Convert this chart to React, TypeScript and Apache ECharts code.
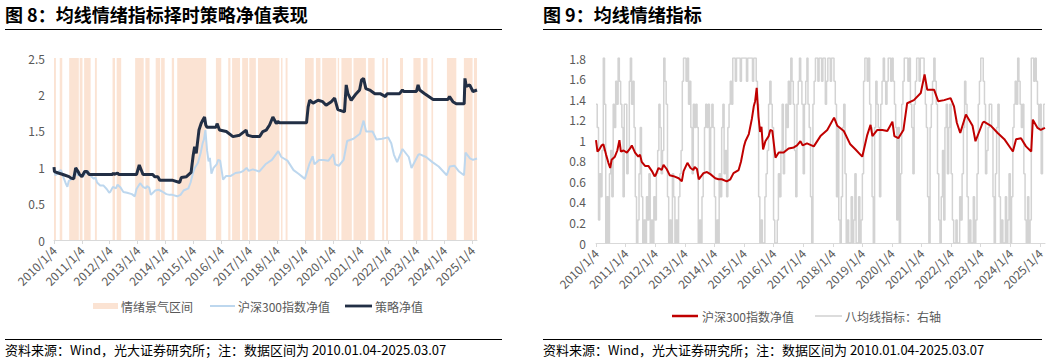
import React, { useEffect, useRef } from "react";
import * as echarts from "echarts";

const FONT = '"Noto Sans CJK SC", "Microsoft YaHei", sans-serif';

// x-axis tick dates and labels (both charts)
const tickDates = [
  "2010-01-04", "2011-01-04", "2012-01-04", "2013-01-04", "2014-01-04", "2015-01-04",
  "2016-01-04", "2017-01-04", "2018-01-04", "2019-01-04", "2020-01-04", "2021-01-04",
  "2022-01-04", "2023-01-04", "2024-01-04", "2025-01-04",
];
const tickLabels = [
  "2010/1/4", "2011/1/4", "2012/1/4", "2013/1/4", "2014/1/4", "2015/1/4",
  "2016/1/4", "2017/1/4", "2018/1/4", "2019/1/4", "2020/1/4", "2021/1/4",
  "2022/1/4", "2023/1/4", "2024/1/4", "2025/1/4",
];
const startDate = "2010-01-04";
const endDate = "2025-03-07";

// CSI 300 net value
const csi300: [string, number][] = [
  ["2010-01-04", 1.0], ["2010-01-22", 0.89], ["2010-02-14", 0.91], ["2010-03-15", 0.95],
  ["2010-04-05", 0.96], ["2010-05-08", 0.86], ["2010-06-06", 0.78], ["2010-06-28", 0.73],
  ["2010-07-16", 0.81], ["2010-08-25", 0.84], ["2010-09-24", 0.9], ["2010-10-20", 1.0],
  ["2010-11-07", 0.89], ["2010-12-10", 0.9], ["2011-01-20", 0.88], ["2011-03-01", 0.92],
  ["2011-03-22", 0.95], ["2011-05-01", 0.88], ["2011-06-10", 0.84], ["2011-07-01", 0.86],
  ["2011-07-22", 0.79], ["2011-09-01", 0.75], ["2011-10-12", 0.75], ["2011-11-25", 0.7],
  ["2011-12-28", 0.65], ["2012-01-10", 0.66], ["2012-02-15", 0.73], ["2012-03-25", 0.71],
  ["2012-04-16", 0.76], ["2012-05-25", 0.72], ["2012-07-01", 0.66], ["2012-08-18", 0.65],
  ["2012-10-20", 0.63], ["2012-11-28", 0.6], ["2012-12-20", 0.7], ["2013-02-05", 0.78],
  ["2013-03-15", 0.73], ["2013-04-20", 0.71], ["2013-05-05", 0.74], ["2013-06-03", 0.72],
  ["2013-06-25", 0.62], ["2013-08-22", 0.68], ["2013-10-05", 0.69], ["2013-11-15", 0.67],
  ["2014-01-15", 0.63], ["2014-02-25", 0.62], ["2014-04-05", 0.62], ["2014-06-05", 0.6],
  ["2014-07-20", 0.62], ["2014-08-28", 0.68], ["2014-10-30", 0.71], ["2014-11-28", 0.79],
  ["2015-01-04", 0.94], ["2015-01-22", 0.99], ["2015-03-05", 1.06], ["2015-04-12", 1.21],
  ["2015-05-05", 1.33], ["2015-05-22", 1.38], ["2015-06-10", 1.51], ["2015-07-02", 1.23],
  ["2015-07-22", 1.08], ["2015-08-08", 1.13], ["2015-08-28", 0.91], ["2015-09-25", 0.99],
  ["2015-11-05", 1.04], ["2015-11-25", 1.1], ["2015-12-20", 1.09], ["2016-01-28", 0.83],
  ["2016-03-08", 0.88], ["2016-05-08", 0.88], ["2016-07-08", 0.92], ["2016-09-10", 0.93],
  ["2016-10-20", 0.95], ["2016-12-01", 0.99], ["2016-12-28", 0.95], ["2017-02-20", 0.97],
  ["2017-05-15", 0.94], ["2017-08-05", 1.04], ["2017-10-28", 1.1], ["2018-01-20", 1.22],
  ["2018-03-01", 1.14], ["2018-05-20", 1.09], ["2018-08-08", 0.96], ["2018-10-12", 0.91],
  ["2018-12-10", 0.86], ["2019-01-03", 0.84], ["2019-03-05", 1.05], ["2019-04-15", 1.15],
  ["2019-05-08", 1.04], ["2019-07-08", 1.1], ["2019-09-08", 1.1], ["2019-11-08", 1.09],
  ["2020-01-10", 1.18], ["2020-02-03", 1.04], ["2020-03-23", 1.02], ["2020-05-25", 1.1],
  ["2020-07-10", 1.36], ["2020-10-01", 1.39], ["2020-12-25", 1.46], ["2021-02-10", 1.64],
  ["2021-03-15", 1.49], ["2021-06-08", 1.49], ["2021-07-28", 1.38], ["2021-10-10", 1.39],
  ["2021-12-28", 1.41], ["2022-02-08", 1.33], ["2022-03-15", 1.17], ["2022-04-26", 1.07],
  ["2022-07-05", 1.25], ["2022-09-25", 1.14], ["2022-10-31", 0.99], ["2023-01-28", 1.17],
  ["2023-02-12", 1.18], ["2023-05-10", 1.14], ["2023-08-01", 1.07], ["2023-10-22", 1.01],
  ["2024-02-05", 0.89], ["2024-03-15", 1.01], ["2024-05-15", 1.02], ["2024-07-15", 0.94],
  ["2024-09-18", 0.89], ["2024-10-08", 1.2], ["2024-12-05", 1.12], ["2025-01-13", 1.1],
  ["2025-03-07", 1.12],
];

// Strategy net value
const strategy: [string, number][] = [
  ["2010-01-04", 1.0], ["2010-01-10", 0.94], ["2010-03-01", 0.92], ["2010-05-01", 0.9],
  ["2010-07-20", 0.87], ["2010-08-15", 0.85], ["2010-09-20", 0.84], ["2010-10-15", 0.99],
  ["2010-11-15", 0.94], ["2010-12-05", 0.9], ["2011-01-04", 0.87], ["2011-02-10", 0.94],
  ["2011-03-10", 0.94], ["2011-04-10", 0.9], ["2012-02-10", 0.9], ["2012-02-20", 0.92],
  ["2012-03-01", 0.9], ["2012-04-15", 0.92], ["2012-05-01", 0.9], ["2012-12-20", 0.9],
  ["2013-01-25", 1.03], ["2013-03-15", 0.9], ["2013-07-20", 0.9], ["2013-08-15", 0.87],
  ["2013-09-25", 0.87], ["2013-10-20", 0.82], ["2014-04-10", 0.82], ["2014-07-08", 0.79],
  ["2014-07-30", 0.86], ["2014-10-05", 0.87], ["2014-12-05", 0.93], ["2015-01-01", 1.16],
  ["2015-01-20", 1.28], ["2015-02-10", 1.19], ["2015-03-18", 1.51], ["2015-04-15", 1.6],
  ["2015-05-08", 1.65], ["2015-05-30", 1.69], ["2015-06-15", 1.58], ["2015-07-01", 1.55],
  ["2015-10-28", 1.55], ["2015-11-10", 1.6], ["2015-12-12", 1.51], ["2016-03-10", 1.49],
  ["2016-06-05", 1.42], ["2016-09-01", 1.44], ["2016-11-25", 1.51], ["2016-12-10", 1.44],
  ["2017-02-20", 1.42], ["2017-05-20", 1.42], ["2017-07-01", 1.49], ["2017-08-15", 1.51],
  ["2017-09-28", 1.58], ["2017-11-10", 1.69], ["2017-12-25", 1.6], ["2018-01-15", 1.63],
  ["2018-02-05", 1.61], ["2019-01-25", 1.61], ["2019-02-15", 1.83], ["2019-03-08", 1.92],
  ["2019-04-20", 1.88], ["2019-06-25", 1.92], ["2019-08-25", 1.9], ["2019-10-08", 1.85],
  ["2019-12-15", 1.9], ["2020-01-28", 1.95], ["2020-03-10", 1.79], ["2020-06-05", 1.76],
  ["2020-06-28", 2.13], ["2020-07-20", 2.01], ["2020-09-01", 1.92], ["2020-11-05", 2.01],
  ["2020-12-20", 2.06], ["2021-01-15", 2.2], ["2021-02-10", 2.22], ["2021-03-12", 2.08],
  ["2021-05-02", 2.06], ["2021-07-08", 2.01], ["2021-09-15", 2.01], ["2021-11-25", 1.97],
  ["2021-12-15", 2.01], ["2022-05-28", 2.01], ["2022-07-04", 2.06], ["2022-07-20", 2.04],
  ["2023-01-04", 2.04], ["2023-01-25", 2.13], ["2023-02-15", 2.06], ["2023-04-22", 2.01],
  ["2023-08-10", 1.93], ["2024-02-20", 1.93], ["2024-03-12", 1.97], ["2024-04-25", 1.9],
  ["2024-06-08", 1.87], ["2024-09-20", 1.87], ["2024-09-30", 2.22], ["2024-10-18", 2.11],
  ["2024-12-01", 2.13], ["2025-01-13", 2.04], ["2025-03-07", 2.06],
];

// 情绪景气区间 (start, end)
const bands: [string, string][] = [
  ["2010-01-04", "2010-01-29"], ["2010-03-20", "2010-04-22"], ["2010-07-22", "2010-11-25"],
  ["2010-12-06", "2011-01-12"], ["2011-02-03", "2011-04-29"], ["2011-06-24", "2011-07-19"],
  ["2012-02-10", "2012-03-13"], ["2012-04-04", "2012-06-02"], ["2012-12-02", "2013-03-24"],
  ["2013-04-15", "2013-06-09"], ["2013-08-28", "2013-10-26"], ["2013-11-07", "2013-12-24"],
  ["2014-03-27", "2014-04-26"], ["2014-06-06", "2015-06-20"], ["2015-10-26", "2016-01-04"],
  ["2016-04-04", "2016-05-03"], ["2016-05-25", "2016-09-06"], ["2016-10-04", "2016-12-20"],
  ["2017-01-05", "2017-04-01"], ["2017-04-29", "2018-02-03"], ["2018-02-25", "2018-03-16"],
  ["2018-04-26", "2018-05-21"], ["2019-01-05", "2019-04-29"], ["2019-05-28", "2019-07-26"],
  ["2019-08-18", "2020-02-18"], ["2020-03-09", "2020-03-27"], ["2020-04-26", "2020-09-09"],
  ["2020-10-01", "2021-03-13"], ["2021-04-11", "2021-07-05"], ["2021-10-12", "2021-11-07"],
  ["2021-12-02", "2021-12-27"], ["2022-06-02", "2022-07-12"], ["2022-11-25", "2023-02-28"],
  ["2023-04-01", "2023-05-28"], ["2023-07-19", "2023-08-10"], ["2024-02-07", "2024-06-09"],
  ["2024-09-16", "2025-01-08"], ["2025-01-26", "2025-03-07"],
];

// 八均线指标 (0-8), twice a month (4th and 19th), 2010-01 .. 2025-02
const indicator2010 = [6,5,1,3,2,4,8,6,0,2,0,3,4,2,6,5,7,6,8,7,6,5,2,6];
const indicator2011 = [6,3,4,7,8,6,7,5,2,0,1,3,5,2,0,1,0,2,1,3,0,1,0,2];
const indicator2012 = [1,3,4,6,5,3,4,8,7,6,2,0,1,0,3,2,0,1,0,2,3,4,7,8];
const indicator2013 = [8,7,8,6,7,5,3,6,5,6,5,0,1,0,2,3,5,6,5,6,3,5,6,5];
const indicator2014 = [2,0,1,0,3,2,5,6,3,4,2,5,6,7,6,8,8,7,8,8,8,7,8,8];
const indicator2015 = [8,8,7,8,8,8,8,7,8,8,7,6,2,0,1,0,0,2,3,4,6,7,6,5];
const indicator2016 = [1,0,0,1,3,2,4,6,3,4,6,5,7,6,8,7,6,4,2,6,7,8,7,6];
const indicator2017 = [3,6,7,8,6,5,2,0,6,7,8,8,7,8,8,7,8,8,6,7,8,8,7,8];
const indicator2018 = [8,7,6,2,5,1,0,2,5,6,3,0,1,0,0,2,0,1,3,0,0,2,0,1];
const indicator2019 = [3,7,8,8,7,8,6,5,2,0,5,7,6,5,2,6,7,8,7,6,7,8,8,7];
const indicator2020 = [8,7,6,5,1,5,0,3,6,7,8,8,8,7,8,6,5,3,6,7,8,8,7,8];
const indicator2021 = [8,8,7,6,5,2,0,5,6,7,8,7,6,3,1,0,2,4,1,5,6,3,5,6];
const indicator2022 = [3,1,0,0,1,0,0,2,1,3,5,7,6,2,0,1,0,0,2,0,1,3,6,7];
const indicator2023 = [8,8,7,6,3,4,5,6,6,5,2,0,3,5,6,2,0,1,0,0,2,0,1,3];
const indicator2024 = [0,2,5,6,7,6,8,7,6,5,6,3,1,0,2,0,1,8,8,7,8,7,6,5];
const indicator2025 = [6,3,5,6];

const indicatorYears: [number, number[]][] = [
  [2010, indicator2010], [2011, indicator2011], [2012, indicator2012], [2013, indicator2013],
  [2014, indicator2014], [2015, indicator2015], [2016, indicator2016], [2017, indicator2017],
  [2018, indicator2018], [2019, indicator2019], [2020, indicator2020], [2021, indicator2021],
  [2022, indicator2022], [2023, indicator2023], [2024, indicator2024], [2025, indicator2025],
];

const toTs = (s: string) => {
  const [y, m, d] = s.split("-").map(Number);
  return Date.UTC(y, m - 1, d);
};
const pad = (n: number) => String(n).padStart(2, "0");

const indicatorData: [number, number][] = [];
indicatorYears.forEach(([y, vals]) => {
  vals.forEach((v, j) => {
    const m = Math.floor(j / 2) + 1;
    const d = j % 2 ? 19 : 4;
    indicatorData.push([toTs(`${y}-${pad(m)}-${pad(d)}`), v]);
  });
});
indicatorData.push([toTs(endDate), indicator2025[indicator2025.length - 1]]);

const csiData = csi300.map(([d, v]) => [toTs(d), v]);
const strategyData = strategy.map(([d, v]) => [toTs(d), v]);

const tickTs = tickDates.map(toTs);
const labelFor = (v: number) => {
  const idx = tickTs.findIndex((t) => Math.abs(t - v) < 86400000);
  return idx >= 0 ? tickLabels[idx] : "";
};

const GRAY_TEXT = "#595959";
const AXIS_GRAY = "#D9D9D9";

function xAxisCfg(gridIndex: number) {
  return {
    type: "value",
    gridIndex,
    min: toTs(startDate),
    max: toTs(endDate),
    axisLine: { show: true, lineStyle: { color: AXIS_GRAY, width: 1 } },
    axisTick: { show: true, length: 4, lineStyle: { color: AXIS_GRAY }, customValues: tickTs },
    axisLabel: {
      customValues: tickTs,
      rotate: 45,
      color: GRAY_TEXT,
      fontSize: 12,
      fontFamily: FONT,
      margin: 8,
      formatter: (v: number) => labelFor(v),
    },
    splitLine: { show: false },
  };
}

export default function App() {
  const ref = useRef<HTMLDivElement>(null);
  useEffect(() => {
    if (!ref.current) return;
    const chart = echarts.init(ref.current, undefined, { renderer: "svg" });
    const txt = (text: string, x: number, y: number, font: string, fill: string) => ({
      type: "text",
      x,
      y,
      style: { text, font, fill, verticalAlign: "middle", align: "left" },
      silent: true,
    });
    const hline = (x1: number, x2: number, y: number, stroke: string, w: number) => ({
      type: "line",
      shape: { x1, y1: y, x2, y2: y },
      style: { stroke, lineWidth: w },
      silent: true,
    });
    const legendFont = `12px ${FONT}`;
    const footFont = `13px ${FONT}`;
    const titleFont = `bold 18px ${FONT}`;
    const footText = "资料来源：Wind，光大证券研究所；注：数据区间为 2010.01.04-2025.03.07";

    chart.setOption({
      animation: false,
      backgroundColor: "#ffffff",
      grid: [
        { left: 54, right: 582, top: 58, bottom: 118 },
        { left: 596, right: 14, top: 58, bottom: 115 },
      ],
      xAxis: [xAxisCfg(0), xAxisCfg(1)],
      yAxis: [
        {
          type: "value", gridIndex: 0, min: 0, max: 2.5, interval: 0.5,
          axisLine: { show: false }, axisTick: { show: false }, splitLine: { show: false },
          axisLabel: { color: GRAY_TEXT, fontSize: 12, fontFamily: FONT, margin: 9,
            formatter: (v: number) => String(Math.round(v * 10) / 10) },
        },
        {
          type: "value", gridIndex: 1, min: 0, max: 1.8, interval: 0.2,
          axisLine: { show: false }, axisTick: { show: false }, splitLine: { show: false },
          axisLabel: { color: GRAY_TEXT, fontSize: 12, fontFamily: FONT, margin: 10,
            formatter: (v: number) => String(Math.round(v * 10) / 10) },
        },
        {
          type: "value", gridIndex: 1, min: 0, max: 8, interval: 1, position: "right",
          show: false, splitLine: { show: false },
        },
      ],
      series: [
        {
          type: "line", name: "沪深300指数净值", xAxisIndex: 0, yAxisIndex: 0,
          data: csiData, symbol: "none", z: 2,
          lineStyle: { color: "#BDD7EE", width: 2 }, itemStyle: { color: "#BDD7EE" },
          markArea: {
            silent: true,
            itemStyle: { color: "#FBE3D3" },
            label: { show: false },
            data: bands.map(([s, e]) => [{ xAxis: toTs(s) }, { xAxis: toTs(e) }]),
          },
        },
        {
          type: "line", name: "策略净值", xAxisIndex: 0, yAxisIndex: 0,
          data: strategyData, symbol: "none", z: 3,
          lineStyle: { color: "#222F45", width: 3 }, itemStyle: { color: "#222F45" },
        },
        {
          type: "line", name: "八均线指标", xAxisIndex: 1, yAxisIndex: 2,
          data: indicatorData, symbol: "none", step: "end", z: 2,
          lineStyle: { color: "#D3D3D3", width: 1.5 }, itemStyle: { color: "#D3D3D3" },
        },
        {
          type: "line", name: "沪深300指数净值(右)", xAxisIndex: 1, yAxisIndex: 1,
          data: csiData, symbol: "none", z: 3,
          lineStyle: { color: "#C00000", width: 2 }, itemStyle: { color: "#C00000" },
        },
      ],
      graphic: [
        txt("图 8：均线情绪指标择时策略净值表现", 5, 14, titleFont, "#000"),
        hline(5, 502, 29.5, "#000", 1),
        txt("图 9：均线情绪指标", 543, 14, titleFont, "#000"),
        hline(543, 1042, 29.5, "#000", 1),
        { type: "rect", shape: { x: 93, y: 303, width: 25, height: 6 }, style: { fill: "#FBE3D3" }, silent: true },
        txt("情绪景气区间", 121, 306, legendFont, GRAY_TEXT),
        hline(210, 235, 306, "#BDD7EE", 2),
        txt("沪深300指数净值", 238, 306, legendFont, GRAY_TEXT),
        hline(345, 372, 306, "#222F45", 2.8),
        txt("策略净值", 375, 306, legendFont, GRAY_TEXT),
        hline(672, 698, 316, "#C00000", 2.5),
        txt("沪深300指数净值", 702, 316, legendFont, GRAY_TEXT),
        hline(815, 842, 316, "#D0D0D0", 1.5),
        txt("八均线指标：右轴", 845, 316, legendFont, GRAY_TEXT),
        hline(5, 502, 339.5, "#000", 1),
        txt(footText, 5, 349, footFont, "#000"),
        hline(543, 1042, 339.5, "#000", 1),
        txt(footText, 543, 349, footFont, "#000"),
      ],
    });
    return () => chart.dispose();
  }, []);
  return (
    <div
      ref={ref}
      style={{ position: "fixed", left: 0, top: 0, width: 1059, height: 358, background: "#fff" }}
    />
  );
}
